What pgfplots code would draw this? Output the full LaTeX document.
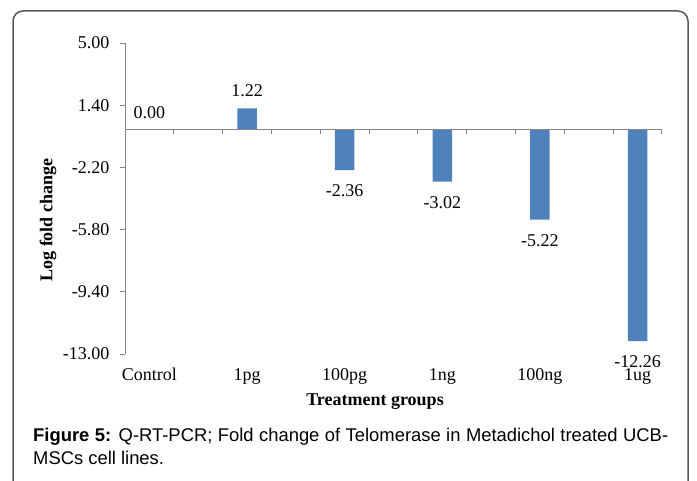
\documentclass[border=0pt]{standalone}
\usepackage{fontspec}
\setmainfont{Liberation Serif}
\newfontfamily\capfont{Liberation Sans}
\usepackage{pgfplots}
\pgfplotsset{compat=1.18}
\definecolor{barblue}{HTML}{4F81BD}
\definecolor{axgray}{HTML}{868686}
\definecolor{framegray}{HTML}{595959}
\newcommand\chartfont{\fontsize{18}{21}\selectfont}
\begin{document}
\begin{tikzpicture}[x=1pt,y=1pt]
\path[use as bounding box] (0,0) rectangle (697,480);
\clip (0,0) rectangle (697,480);
\draw[framegray, line width=1.5pt, rounded corners=10pt] (13,-20) rectangle (688,469);
\begin{axis}[
  at={(125pt,126pt)}, anchor=south west,
  scale only axis, width=537pt, height=311pt,
  xmin=-0.25, xmax=5.25, ymin=-13, ymax=5,
  axis y line=left, axis x line*=bottom,
  x axis line style={draw=none},
  y axis line style={axgray, line width=1pt, -},
  xtick={0,1,2,3,4,5},
  xticklabels={Control,1pg,100pg,1ng,100ng,1ug},
  xtick style={draw=none},
  xticklabel style={font=\chartfont, anchor=base, yshift=-21pt},
  ytick={-13,-9.4,-5.8,-2.2,1.4,5},
  yticklabels={-13.00,-9.40,-5.80,-2.20,1.40,5.00},
  ytick style={axgray, line width=1pt},
  tick align=outside, major tick length=5pt,
  yticklabel style={font=\chartfont, xshift=-7pt},
  ybar, bar width=19.5pt,
  point meta=y,
  nodes near coords={\rule{0pt}{15.5pt}\pgfmathprintnumber[fixed,fixed zerofill,precision=2,assume math mode=true]{\pgfplotspointmeta}},
  every node near coord/.append style={font=\chartfont, inner ysep=10.9pt, text=black},
  clip=false,
]
\addplot[fill=barblue, draw=none] coordinates {(0,0) (1,1.22) (2,-2.36) (3,-3.02) (4,-5.22) (5,-12.26)};
\draw[axgray, line width=1pt] (axis cs:-0.25,0) -- (axis cs:5.25,0);
\pgfplotsinvokeforeach{0.25,0.75,1.25,1.75,2.25,2.75,3.25,3.75,4.25,4.75,5.25}{
  \draw[axgray, line width=1pt] (axis cs:#1,0) -- ++(0pt,-5pt);
}
\end{axis}
\node[font=\bfseries\chartfont, rotate=90] at (48,260) {Log fold change};
\node[font=\bfseries\chartfont] at (375,78) {Treatment groups};
\node[anchor=base west, inner sep=0, font=\capfont\fontsize{18.4}{22}\selectfont] at (33,38) {\makebox[635pt][s]{\textbf{Figure 5:} Q-RT-PCR; Fold change of Telomerase in Metadichol treated UCB-}};
\node[anchor=base west, inner sep=0, font=\capfont\fontsize{18.4}{22}\selectfont] at (33,16) {MSCs cell lines.};
\end{tikzpicture}
\end{document}
